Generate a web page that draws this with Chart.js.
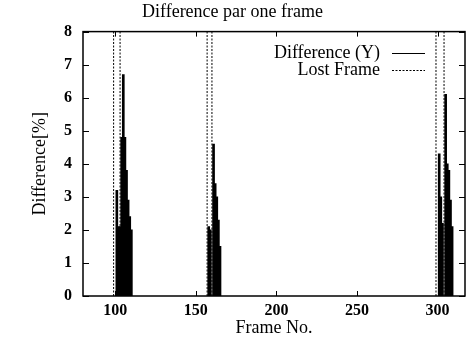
<!DOCTYPE html>
<html><head><meta charset="utf-8">
<script src="https://cdn.jsdelivr.net/npm/chart.js@4.4.0/dist/chart.umd.min.js"></script>
<style>html,body{margin:0;padding:0;background:#fff}#wrap{width:471px;height:346px}</style>
</head><body><div id="wrap"><canvas id="c" width="471" height="346"></canvas></div>
<script>
const titleText = "Difference par one frame";
const xTitle = "Frame No.";
const yTitle = "Difference[%]";
const xTicks = [100, 150, 200, 250, 300];
const yTicks = [0, 1, 2, 3, 4, 5, 6, 7, 8];
const diffFrames = [101, 102, 103, 104, 105, 106, 107, 108, 109, 110,
                    158, 159, 161, 162, 163, 164, 165,
                    301, 302, 303, 305, 306, 307, 308, 309];
const diffValues = [3.2, 2.1, 2.1, 4.8, 6.7, 4.8, 3.8, 2.9, 2.4, 2.0,
                    2.1, 2.0, 4.6, 3.4, 3.0, 2.3, 1.5,
                    4.3, 3.0, 2.2, 6.1, 4.0, 3.8, 2.9, 2.1];
const lostFrames = [99, 103, 157, 160, 299, 304];
const legendLabels = ["Difference (Y)", "Lost Frame"];

const FONT = "'Liberation Serif', 'DejaVu Serif', serif";
const diffData = diffFrames.map((f, i) => ({x: f, y: diffValues[i]}));
const lostData = [];
lostFrames.forEach(f => { lostData.push({x: f, y: 0}); lostData.push({x: f, y: 8}); lostData.push({x: f, y: null}); });

const framePlugin = {
  id: 'frame',
  afterDatasetsDraw(chart) {
    const {ctx, chartArea: a, scales: {x, y}} = chart;
    ctx.save();
    ctx.strokeStyle = '#000';
    ctx.lineWidth = 1.5;
    ctx.strokeRect(a.left, a.top, a.right - a.left, a.bottom - a.top);
    ctx.lineWidth = 1;
    ctx.beginPath();
    xTicks.forEach(v => {
      const px = Math.round(x.getPixelForValue(v)) + 0.5;
      ctx.moveTo(px, a.bottom); ctx.lineTo(px, a.bottom - 5);
      ctx.moveTo(px, a.top); ctx.lineTo(px, a.top + 5);
    });
    yTicks.forEach(v => {
      const py = Math.round(y.getPixelForValue(v)) + 0.5;
      ctx.moveTo(a.left, py); ctx.lineTo(a.left + 6, py);
      ctx.moveTo(a.right, py); ctx.lineTo(a.right - 6, py);
    });
    ctx.stroke();
    // legend
    ctx.font = "18px " + FONT;
    ctx.fillStyle = '#000';
    ctx.textAlign = 'right';
    ctx.textBaseline = 'middle';
    const rx = 380, sx0 = 392, sx1 = 425;
    const rows = [53, 70];
    legendLabels.forEach((t, i) => {
      ctx.fillText(t, rx, rows[i]);
      ctx.beginPath();
      ctx.setLineDash(i === 1 ? [2, 1.5] : []);
      ctx.moveTo(sx0, rows[i] + 0.5); ctx.lineTo(sx1, rows[i] + 0.5);
      ctx.stroke();
    });
    ctx.setLineDash([]);
    ctx.restore();
  }
};

new Chart(document.getElementById('c'), {
  data: {
    datasets: [
      {type: 'bar', label: legendLabels[0], data: diffData, backgroundColor: '#000', borderWidth: 0,
       barThickness: 2, order: 2},
      {type: 'line', label: legendLabels[1], data: lostData, borderColor: '#000', borderWidth: 1,
       borderDash: [2, 1.5], pointRadius: 0, spanGaps: false, fill: false, order: 1}
    ]
  },
  options: {
    responsive: false,
    animation: false,
    devicePixelRatio: 1,
    layout: {padding: {left: 0, right: 6, top: 0, bottom: 0}},
    plugins: {
      legend: {display: false},
      tooltip: {enabled: false},
      title: {display: true, text: titleText, color: '#000', font: {family: FONT, size: 18, weight: 'normal'}, padding: {top: 1, bottom: 9}}
    },
    scales: {
      x: {
        type: 'linear', min: 80, max: 317, offset: false,
        afterBuildTicks: s => { s.ticks = xTicks.map(v => ({value: v})); },
        afterFit: s => { s.height = 50; },
        ticks: {color: '#000', font: {family: FONT, size: 16, weight: 'bold'}, padding: 5, maxRotation: 0},
        grid: {display: false, drawTicks: false}, border: {display: false},
        title: {display: true, text: xTitle, color: '#000', font: {family: FONT, size: 18}, padding: {top: 0, bottom: 7}}
      },
      y: {
        min: 0, max: 8,
        afterBuildTicks: s => { s.ticks = yTicks.map(v => ({value: v})); },
        afterFit: s => { s.width = 83; },
        ticks: {color: '#000', font: {family: FONT, size: 16, weight: 'bold'}, padding: 11},
        grid: {display: false, drawTicks: false}, border: {display: false},
        title: {display: true, text: yTitle, color: '#000', font: {family: FONT, size: 18}, padding: {top: 29, bottom: 0}}
      }
    }
  },
  plugins: [framePlugin]
});
</script></body></html>
